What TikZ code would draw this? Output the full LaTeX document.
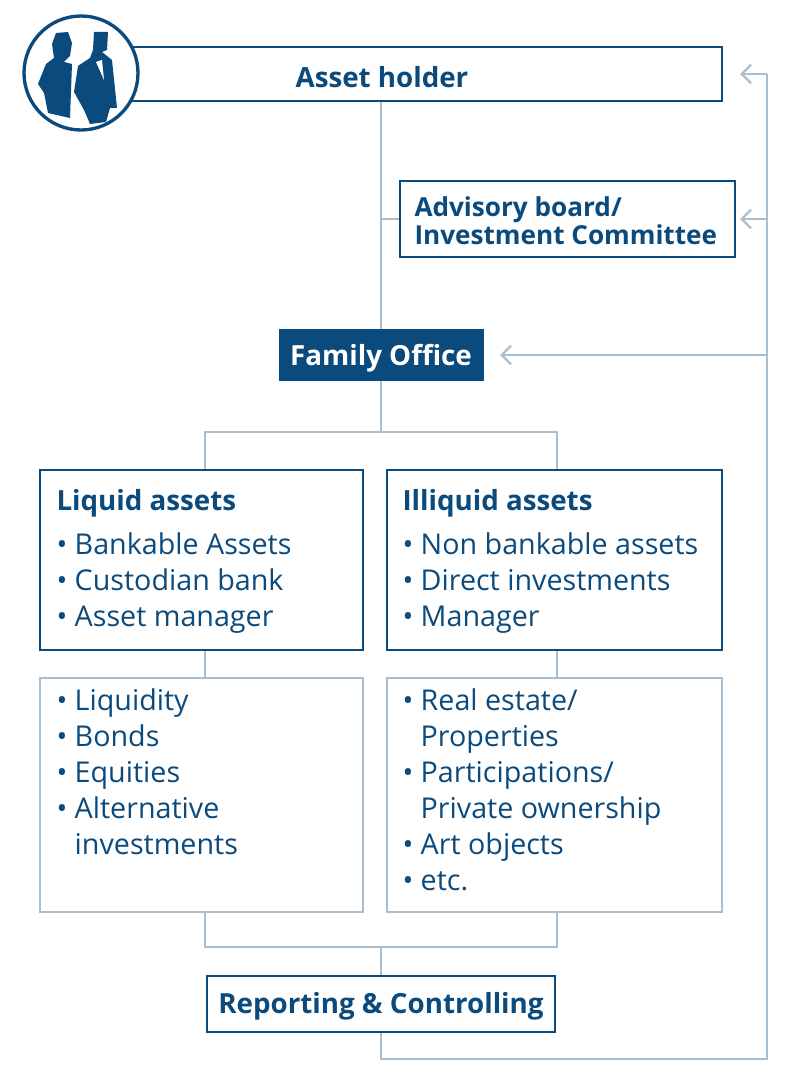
\documentclass[tikz,border=0pt]{standalone}
\usepackage{fontspec}
\setmainfont{Open Sans}
\usetikzlibrary{arrows.meta}
\definecolor{navy}{RGB}{11,74,125}
\definecolor{pale}{RGB}{169,191,208}
\tikzset{every picture/.style={line width=0.75pt}}
\tikzset{
  darkbox/.style={draw=navy,line width=2pt,fill=white},
  lightbox/.style={draw=pale,line width=1.2pt,fill=white},
  link/.style={draw=pale,line width=1.8pt},
  back/.style={link,-{Straight Barb[length=7pt,width=14pt,line width=1.8pt]}},
  title/.style={text=navy,font=\fontsize{20.8}{21}\selectfont\bfseries,inner sep=0pt},
  item/.style={text=navy,font=\fontsize{21.5}{27}\selectfont,inner sep=0pt,anchor=north west,align=left}
}
\begin{document}
\begin{tikzpicture}[x=0.75pt,y=0.75pt,yscale=-1,xscale=1]
\useasboundingbox (0,0) rectangle (788,1080);

% connectors behind boxes
\draw[link] (381,101) -- (381,329);
\draw[link] (381,219) -- (400,219);
\draw[link] (381,381) -- (381,432);
\draw[link] (205,470) -- (205,432) -- (557,432) -- (557,470);
\draw[link] (205,650) -- (205,678);
\draw[link] (557,650) -- (557,678);
\draw[link] (205,912) -- (205,947) -- (557,947) -- (557,912);
\draw[link] (381,947) -- (381,976);
\draw[link] (381,1032) -- (381,1059) -- (767,1059) -- (767,74);
\draw[back] (767,74) -- (740,74);
\draw[back] (767,219) -- (740,219);
\draw[back] (767,355) -- (500,355);

% Asset holder
\draw[darkbox] (130,47) rectangle (722,101);
\node[title] (holder) at (382,77) {Asset holder};
\draw[darkbox,line width=2.5pt] (81,73) circle (57);
% silhouettes
\fill[navy] (56,33) -- (68,32) -- (72,43) -- (70,56) -- (64,62) -- (72,64) -- (70,118) -- (48,113) -- (44,93) -- (38,84) -- (46,64) -- (54,58) -- (52,44) -- cycle;
\fill[navy] (94,32) -- (108,32) -- (107,50) -- (102,52) -- (112,60) -- (117,108) -- (110,108) -- (106,122) -- (90,124) -- (84,110) -- (74,92) -- (78,66) -- (90,58) -- (93,50) -- cycle;
\fill[white] (96,62) -- (102,60) -- (104,80) -- cycle;

% Advisory board
\draw[darkbox] (400,181) rectangle (735,257);
\node[title,font=\fontsize{19.6}{21}\selectfont\bfseries,align=left,anchor=west] (advisory) at (414,221) {Advisory board/\\Investment Committee};

% Family Office
\fill[navy] (279,329) rectangle (484,381);
\node[title,text=white] (office) at (381,358) {Family Office};

% Liquid / Illiquid
\draw[darkbox] (40,470) rectangle (363,650);
\draw[darkbox] (387,470) rectangle (722,650);
\node[title,anchor=west] (liquid) at (56,503) {Liquid assets};
\node[title,anchor=west] (illiquid) at (402,503) {Illiquid assets};
\node[item] (liqlist) at (56,532) {• Bankable Assets\\• Custodian bank\\• Asset manager};
\node[item] (illlist) at (402,532) {• Non bankable assets\\• Direct investments\\• Manager};

% lower boxes
\draw[lightbox] (40,678) rectangle (363,912);
\draw[lightbox] (387,678) rectangle (722,912);
\node[item] (liqsub) at (56,688) {• Liquidity\\• Bonds\\• Equities\\• Alternative\\\phantom{• }investments};
\node[item] (illsub) at (402,688) {• Real estate/\\\phantom{• }Properties\\• Participations/\\\phantom{• }Private ownership\\• Art objects\\• etc.};

% Reporting
\draw[darkbox] (207,976) rectangle (555,1032);
\node[title] (report) at (381,1006) {Reporting \& Controlling};
\end{tikzpicture}
\end{document}
